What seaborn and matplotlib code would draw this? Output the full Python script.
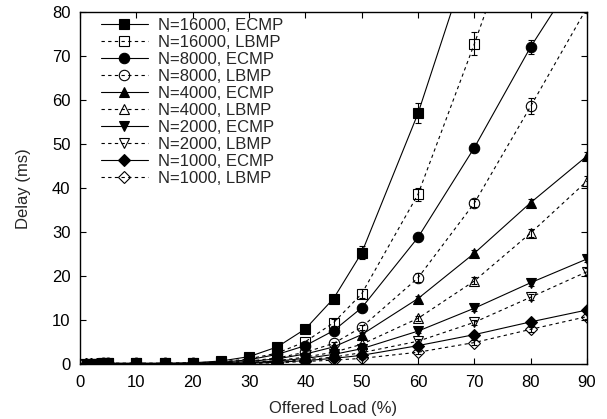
import numpy as np
import pandas as pd
import matplotlib
matplotlib.use("Agg")
import matplotlib.pyplot as plt
import seaborn as sns

nan = np.nan

# Offered load (%) at which delay was measured
loads = [1, 2, 3, 4, 5, 10, 15, 20, 25, 30, 35, 40, 45, 50, 60, 70, 80, 90]

# Mean delay (ms) per configuration
n16000_ecmp = [nan, nan, nan, 0.2, 0.2, 0.2, 0.2, 0.3, 0.7, 1.7, 3.9, 8.0, 14.9, 25.3, 57.0, 96.0, nan, nan]
n16000_lbmp = [nan, nan, nan, 0.2, 0.2, 0.2, 0.2, 0.3, 0.5, 1.2, 2.5, 5.1, 9.4, 16.0, 38.6, 72.8, 109.0, nan]
n8000_ecmp = [nan, nan, nan, 0.15, 0.15, 0.15, 0.15, 0.2, 0.4, 1.0, 2.2, 4.2, 7.6, 12.8, 28.8, 49.2, 72.1, 92.0]
n8000_lbmp = [nan, nan, nan, 0.15, 0.15, 0.15, 0.15, 0.2, 0.3, 0.7, 1.4, 2.7, 4.7, 8.4, 19.6, 36.6, 58.6, 81.0]
n4000_ecmp = [nan, nan, nan, 0.1, 0.1, 0.1, 0.1, 0.15, 0.3, 0.6, 1.2, 2.3, 3.9, 6.7, 14.9, 25.2, 36.7, 47.3]
n4000_lbmp = [nan, nan, nan, 0.1, 0.1, 0.1, 0.1, 0.1, 0.2, 0.4, 0.8, 1.6, 2.7, 4.5, 10.4, 18.9, 29.8, 41.6]
n2000_ecmp = [0.1, 0.1, 0.1, 0.1, 0.1, 0.1, 0.1, 0.1, 0.15, 0.3, 0.7, 1.3, 2.2, 3.5, 7.5, 12.7, 18.5, 23.9]
n2000_lbmp = [0.1, 0.1, 0.1, 0.1, 0.1, 0.1, 0.1, 0.1, 0.1, 0.2, 0.5, 1.0, 1.6, 2.6, 5.2, 9.5, 15.2, 21.0]
n1000_ecmp = [0.05, 0.05, 0.05, 0.05, 0.05, 0.1, 0.1, 0.1, 0.1, 0.2, 0.4, 0.8, 1.3, 2.0, 4.2, 6.7, 9.6, 12.3]
n1000_lbmp = [0.05, 0.05, 0.05, 0.05, 0.05, 0.1, 0.1, 0.1, 0.1, 0.15, 0.3, 0.6, 0.9, 1.3, 2.7, 4.9, 7.9, 10.8]

# Half-width of the error bars (ms) at the higher loads
err_loads = [45, 50, 60, 70, 80, 90]
e16000_ecmp = [0.6, 1.5, 2.3, 0.0, 0.0, 0.0]
e16000_lbmp = [0.8, 1.0, 1.5, 2.6, 0.0, 0.0]
e8000_ecmp = [0.4, 0.6, 0.8, 1.0, 1.5, 0.0]
e8000_lbmp = [0.4, 0.6, 1.0, 1.0, 1.8, 0.0]
e4000_ecmp = [0.3, 0.4, 0.6, 0.7, 0.8, 0.8]
e4000_lbmp = [0.3, 0.4, 0.6, 0.8, 1.0, 1.2]
e2000_ecmp = [0.2, 0.3, 0.5, 0.6, 0.7, 0.8]
e2000_lbmp = [0.2, 0.3, 0.5, 0.6, 0.7, 0.8]
e1000_ecmp = [0.2, 0.2, 0.4, 0.5, 0.5, 0.6]
e1000_lbmp = [0.2, 0.2, 0.4, 0.5, 0.5, 0.6]

labels = ["N=16000, ECMP", "N=16000, LBMP", "N=8000, ECMP", "N=8000, LBMP",
          "N=4000, ECMP", "N=4000, LBMP", "N=2000, ECMP", "N=2000, LBMP",
          "N=1000, ECMP", "N=1000, LBMP"]
series = [n16000_ecmp, n16000_lbmp, n8000_ecmp, n8000_lbmp, n4000_ecmp,
          n4000_lbmp, n2000_ecmp, n2000_lbmp, n1000_ecmp, n1000_lbmp]
errors = [e16000_ecmp, e16000_lbmp, e8000_ecmp, e8000_lbmp, e4000_ecmp,
          e4000_lbmp, e2000_ecmp, e2000_lbmp, e1000_ecmp, e1000_lbmp]
markers = ["s", "s", "o", "o", "^", "^", "v", "v", "D", "D"]
msizes = [7.5, 7.5, 7.5, 7.5, 6.5, 6.5, 6.5, 6.5, 6.0, 6.0]

sns.set_theme(style="ticks")
plt.rcParams["font.family"] = ["Liberation Sans", "DejaVu Sans"]
plt.rcParams["font.size"] = 12

fig = plt.figure(figsize=(6.07, 4.19), dpi=100)
ax = fig.add_axes([0.132, 0.131, 0.835, 0.840])

for i, (lab, vals, errs) in enumerate(zip(labels, series, errors)):
    df = pd.DataFrame({"load": loads, "delay": vals}).dropna()
    filled = (i % 2 == 0)
    ls = "-" if filled else (0, (3, 3))
    sns.lineplot(data=df, x="load", y="delay", ax=ax, color="black",
                 linestyle=ls, linewidth=0.8, marker=markers[i],
                 markersize=msizes[i],
                 markerfacecolor="black" if filled else "none",
                 mec="black", mew=0.8, label=lab, errorbar=None,
                 clip_on=True, zorder=3)
    edf = pd.DataFrame({"load": err_loads, "err": errs})
    edf = edf.merge(df, on="load")
    edf = edf[edf["err"] > 0]
    ax.errorbar(edf["load"], edf["delay"], yerr=edf["err"], fmt="none",
                ecolor="black", elinewidth=0.8, capsize=2.5, capthick=0.8,
                zorder=4)

ax.set_xlim(0, 90)
ax.set_ylim(0, 80)
ax.set_xticks(range(0, 91, 10))
ax.set_yticks(range(0, 81, 10))
ax.tick_params(direction="in", top=True, right=True, length=4, width=0.8,
               labelsize=12, colors="black", pad=7)
ax.tick_params(axis="x", pad=8)
for sp in ax.spines.values():
    sp.set_linewidth(1.0)
    sp.set_color("black")
ax.set_xlabel("Offered Load (%)", fontsize=12, labelpad=8)
ax.set_ylabel("Delay (ms)", fontsize=12, labelpad=15)

ax.legend(loc="upper left", bbox_to_anchor=(0.041, 0.984), frameon=False,
          borderpad=0, borderaxespad=0, handlelength=2.8, handletextpad=0.6,
          labelspacing=0.12, fontsize=12)

fig.savefig("out.png", dpi=100)
